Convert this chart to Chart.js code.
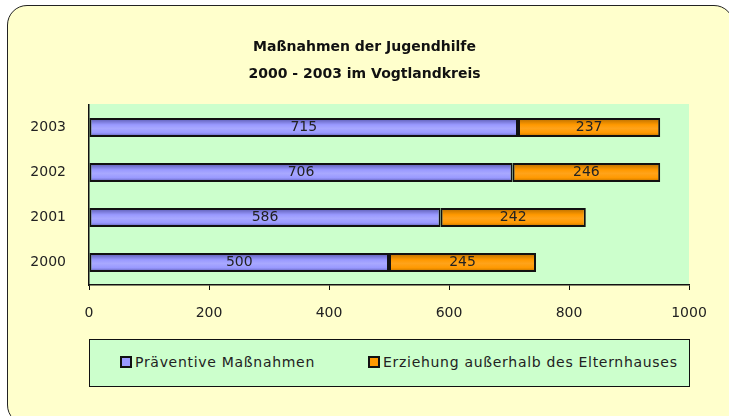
<!DOCTYPE html>
<html>
<head>
<meta charset="utf-8">
<script src="https://cdn.jsdelivr.net/npm/chart.js@4.4.1/dist/chart.umd.min.js"></script>
<style>
  html, body { margin: 0; padding: 0; width: 729px; height: 416px; overflow: hidden; background: #fff; }
  #rahmen {
    position: absolute; left: 7px; top: 5px; width: 727px; height: 420px;
    background: #FFFFCC; border: 1.5px solid #222; border-radius: 20px; box-sizing: border-box;
  }
  #wrap { position: absolute; left: 0; top: 0; width: 729px; height: 416px; }
  #legende {
    position: absolute; left: 89px; top: 339px; width: 601px; height: 48px; box-sizing: border-box;
    background: #CCFFCC; border: 1px solid #111;
    font-family: "DejaVu Sans", sans-serif; font-size: 14px; letter-spacing: 0.7px; color: #222;
  }
  .item { position: absolute; top: 14px; white-space: nowrap; }
  .box { display: inline-block; width: 8px; height: 8px; border: 2px solid #111; vertical-align: -1px; margin-right: 3px; }
</style>
</head>
<body>
<div id="rahmen"></div>
<div id="wrap"><canvas id="grafik" width="729" height="416"></canvas></div>
<div id="legende">
  <span class="item" style="left:30px"><span class="box" style="background:#9999FF"></span>Präventive Maßnahmen</span>
  <span class="item" style="left:278px"><span class="box" style="background:#FF9900"></span>Erziehung außerhalb des Elternhauses</span>
</div>
<script>
// Daten
const jahre = ['2000', '2001', '2002', '2003'];
const praeventiv = [500, 586, 706, 715];
const erziehung = [245, 242, 246, 237];
const titel = ['Maßnahmen der Jugendhilfe', '2000 - 2003 im Vogtlandkreis'];

const schrift = '"DejaVu Sans", sans-serif';

// Verlauf pro Balken (oben/unten dunkler)
function verlauf(farben) {
    return function (ctx) {
        const chart = ctx.chart;
        const y = chart.scales.y;
        if (!y || ctx.dataIndex === undefined) return farben[1];
        const cy = y.getPixelForValue(ctx.dataIndex);
        if (!isFinite(cy)) return farben[1];
        const g = chart.ctx.createLinearGradient(0, cy - 9, 0, cy + 9);
        g.addColorStop(0, farben[0]);
        g.addColorStop(0.35, farben[1]);
        g.addColorStop(0.55, farben[2]);
        g.addColorStop(0.8, farben[1]);
        g.addColorStop(1, farben[0]);
        return g;
    };
}

const flaeche = {
    id: 'flaeche',
    beforeDraw(chart) {
        const a = chart.chartArea;
        chart.ctx.save();
        chart.ctx.fillStyle = '#CCFFCC';
        chart.ctx.fillRect(a.left, a.top - 1, a.right - a.left, a.bottom - a.top + 1);
        chart.ctx.restore();
    }
};

// Titel mittig über der ganzen Fläche
const ueberschrift = {
    id: 'ueberschrift',
    afterDraw(chart) {
        const c = chart.ctx;
        c.save();
        c.font = 'bold 14px ' + schrift;
        c.fillStyle = '#111';
        c.textAlign = 'center';
        c.textBaseline = 'middle';
        titel.forEach((zeile, i) => c.fillText(zeile, chart.width / 2, 47 + i * 27));
        c.restore();
    }
};

const werte = {
    id: 'werte',
    afterDatasetsDraw(chart) {
        const c = chart.ctx;
        c.save();
        c.font = '14px ' + schrift;
        c.fillStyle = '#222';
        c.textAlign = 'center';
        c.textBaseline = 'middle';
        chart.data.datasets.forEach((ds, i) => {
            chart.getDatasetMeta(i).data.forEach((bar, j) => {
                const mitte = (bar.x + bar.base) / 2;
                c.fillText(ds.data[j], mitte, bar.y);
            });
        });
        c.restore();
    }
};

const config = {
    type: 'bar',
    data: {
        labels: jahre,
        datasets: [{
            label: 'Präventive Maßnahmen',
            data: praeventiv,
            backgroundColor: verlauf(['#5a5ab0', '#9999FF', '#a8a8ff']),
            borderColor: '#111',
            borderWidth: 2,
            borderSkipped: false,
            barPercentage: 0.42,
            categoryPercentage: 1
        }, {
            label: 'Erziehung außerhalb des Elternhauses',
            data: erziehung,
            backgroundColor: verlauf(['#b86e00', '#FF9900', '#ffa31a']),
            borderColor: '#111',
            borderWidth: 2,
            borderSkipped: false,
            barPercentage: 0.42,
            categoryPercentage: 1
        }]
    },
    options: {
        indexAxis: 'y',
        responsive: false,
        animation: false,
        layout: { padding: { left: 0, right: 40, top: 105, bottom: 0 } },
        plugins: {
            legend: { display: false },
            tooltip: { enabled: false },
            title: { display: false }
        },
        scales: {
            x: {
                stacked: true,
                min: 0,
                max: 1000,
                ticks: {
                    stepSize: 200, color: '#222', font: { family: schrift, size: 14 }, padding: 15, maxRotation: 0,
                    callback: v => String(v)
                },
                grid: { drawOnChartArea: false, drawTicks: true, tickLength: 5, color: '#111' },
                border: { color: '#111', width: 1.5 },
                afterFit(s) { s.height = 131; }
            },
            y: {
                stacked: true,
                reverse: true,
                ticks: { color: '#222', font: { family: schrift, size: 14 }, padding: 15 },
                grid: { display: false },
                border: { color: '#111', width: 1.5 },
                afterFit(s) { s.width = 89; }
            }
        }
    },
    plugins: [flaeche, werte, ueberschrift]
};

new Chart(document.getElementById('grafik'), config);
</script>
</body>
</html>
